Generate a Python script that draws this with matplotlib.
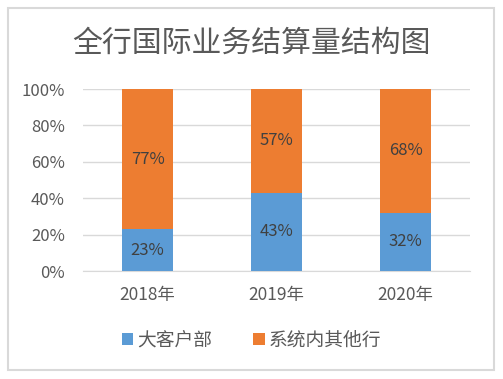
import matplotlib.pyplot as plt
from matplotlib.patches import Rectangle
from matplotlib.ticker import PercentFormatter

plt.rcParams['font.family'] = ['Noto Sans CJK SC', 'DejaVu Sans']

years = ['2018年', '2019年', '2020年']
big_client = [23, 43, 32]
other_branches = [77, 57, 68]
series_names = ['大客户部', '系统内其他行']
title = '全行国际业务结算量结构图'

blue = '#5B9BD5'
orange = '#ED7D31'
text_c = '#595959'

fig = plt.figure(figsize=(5.03, 3.79), dpi=100)
ax = fig.add_axes([83 / 503, 1 - 271 / 379, 387 / 503, 182 / 379])

x = range(len(years))
b1 = ax.bar(x, big_client, width=0.4, color=blue, label=series_names[0], zorder=3)
b2 = ax.bar(x, other_branches, width=0.4, bottom=big_client, color=orange,
            label=series_names[1], zorder=3)

for i in x:
    ax.text(i, big_client[i] / 2, f'{big_client[i]}%', ha='center', va='center',
            fontsize=12, color='#404040', zorder=4)
    ax.text(i, big_client[i] + other_branches[i] / 2, f'{other_branches[i]}%',
            ha='center', va='center', fontsize=12, color='#404040', zorder=4)

ax.set_xlim(-0.5, 2.5)
ax.set_ylim(0, 100)
ax.set_yticks(range(0, 101, 20))
ax.yaxis.set_major_formatter(PercentFormatter(decimals=0))
ax.set_xticks(list(x))
ax.set_xticklabels(years)
ax.tick_params(axis='y', length=0, labelsize=12, colors=text_c, pad=13)
ax.tick_params(axis='x', length=0, labelsize=12.5, colors=text_c, pad=11)
ax.grid(axis='y', color='#D9D9D9', linewidth=1, zorder=0)
for s in ['top', 'right', 'left']:
    ax.spines[s].set_visible(False)
ax.spines['bottom'].set_color('#D9D9D9')

fig.text(0.5, 1 - 43 / 379, title, ha='center', va='center', fontsize=21.5, color=text_c)

fig.legend(handles=[b1, b2], labels=series_names, loc='center',
           bbox_to_anchor=(0.5, 1 - 340 / 379), ncol=2, frameon=False,
           fontsize=13.5, labelcolor=text_c, handlelength=0.6, handleheight=0.6,
           handletextpad=0.2, columnspacing=2.2)

fig.patches.append(Rectangle((8 / 503, 1 - 370 / 379), 486 / 503, 362 / 379,
                             transform=fig.transFigure, fill=False,
                             edgecolor='#D9D9D9', linewidth=1.5))

fig.savefig('out.png', dpi=100)
